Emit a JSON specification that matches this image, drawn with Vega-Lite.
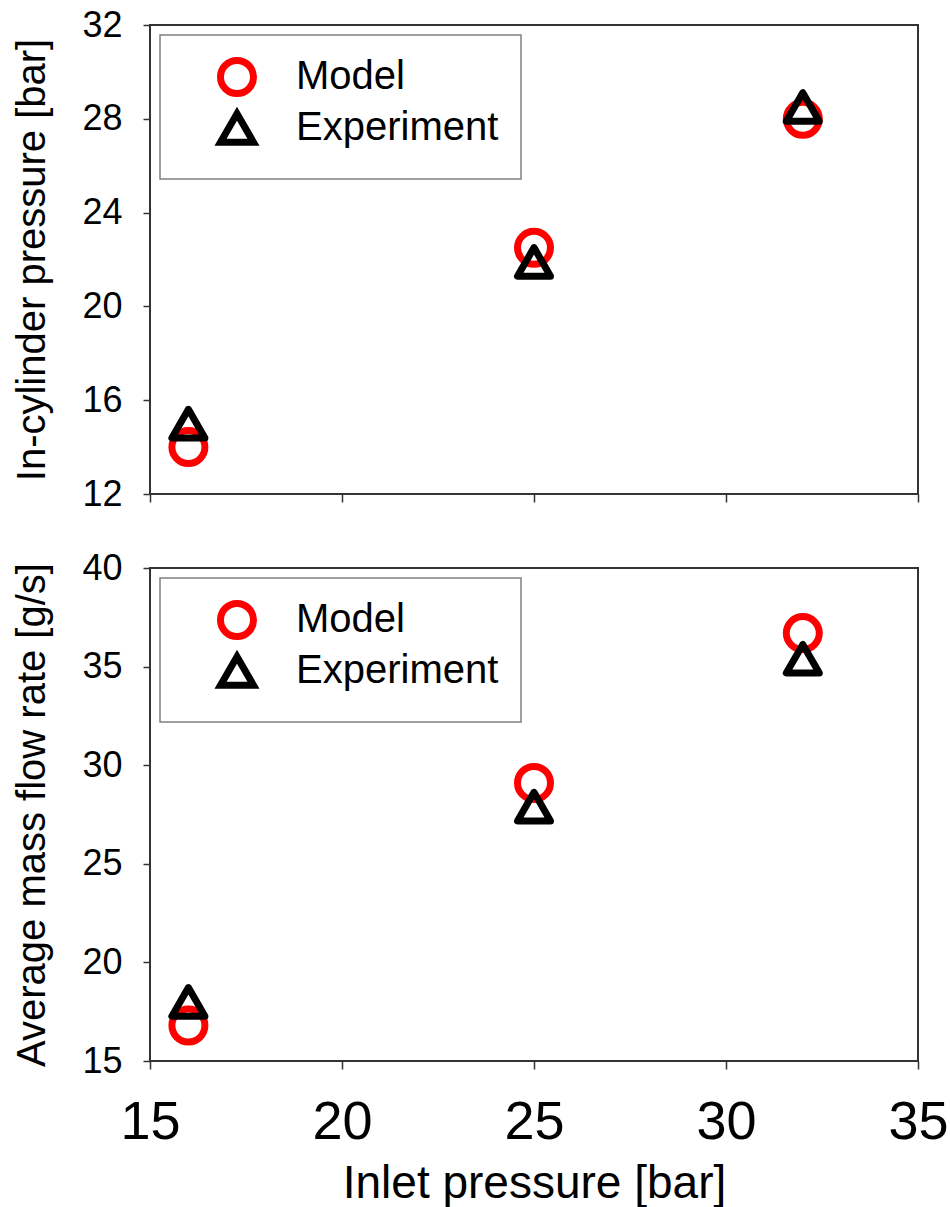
{
  "$schema": "https://vega.github.io/schema/vega-lite/v6.json",
  "autosize": {"type": "pad"},
  "padding": {"left": 10, "top": 6, "right": 0, "bottom": 0},
  "background": "white",
  "spacing": 74,
  "bounds": "flush",
  "config": {
    "font": "Liberation Sans",
    "view": {"stroke": "#333333", "strokeWidth": 2},
    "axis": {
      "domain": false,
      "grid": false,
      "labelFlush": false,
      "tickColor": "#333333",
      "tickWidth": 1.5,
      "tickSize": 8,
      "labelColor": "black",
      "titleColor": "black",
      "labelFont": "Liberation Sans",
      "titleFont": "Liberation Sans",
      "titleFontWeight": "normal"
    },
    "legend": {
      "orient": "none",
      "legendX": 10,
      "legendY": 10,
      "strokeColor": "#808080",
      "strokeWidth": 1.5,
      "padding": 22,
      "symbolOffset": 35,
      "labelOffset": 39,
      "labelFontSize": 40,
      "labelFont": "Liberation Sans",
      "labelColor": "black",
      "symbolSize": 1089,
      "symbolStrokeWidth": 7,
      "rowPadding": -12,
      "labelLimit": 400
    }
  },
  "datasets": {
    "cyl": [
      {"inlet": 16, "value": 14.0, "series": "Model"},
      {"inlet": 25, "value": 22.5, "series": "Model"},
      {"inlet": 32, "value": 28.0, "series": "Model"},
      {"inlet": 16, "value": 15.0, "series": "Experiment"},
      {"inlet": 25, "value": 21.9, "series": "Experiment"},
      {"inlet": 32, "value": 28.5, "series": "Experiment"}
    ],
    "flow": [
      {"inlet": 16, "value": 16.8, "series": "Model"},
      {"inlet": 25, "value": 29.1, "series": "Model"},
      {"inlet": 32, "value": 36.7, "series": "Model"},
      {"inlet": 16, "value": 18.0, "series": "Experiment"},
      {"inlet": 25, "value": 27.9, "series": "Experiment"},
      {"inlet": 32, "value": 35.4, "series": "Experiment"}
    ]
  },
  "resolve": {
    "scale": {"shape": "independent", "stroke": "independent"},
    "legend": {"shape": "independent", "stroke": "independent"}
  },
  "vconcat": [
    {
      "width": 768,
      "height": 469,
      "data": {"name": "cyl"},
      "mark": {"type": "point", "filled": false, "strokeWidth": 7, "size": 1089, "strokeJoin": "round", "opacity": 1},
      "encoding": {
        "x": {
          "field": "inlet", "type": "quantitative",
          "scale": {"domain": [15, 35], "nice": false, "zero": false},
          "axis": {"values": [15, 20, 25, 30, 35], "labels": false, "title": null}
        },
        "y": {
          "field": "value", "type": "quantitative",
          "scale": {"domain": [12, 32], "nice": false, "zero": false},
          "axis": {
            "values": [12, 16, 20, 24, 28, 32],
            "title": "In-cylinder pressure [bar]",
            "labelFontSize": 36,
            "labelPadding": 21,
            "tickSize": 7,
            "titleFontSize": 40,
            "titleX": -106,
            "titleBaseline": "alphabetic"
          }
        },
        "shape": {
          "field": "series", "type": "nominal",
          "scale": {"domain": ["Model", "Experiment"], "range": ["circle", "triangle-up"]},
          "legend": {"title": null, "encode": {"symbols": {"update": {"strokeJoin": {"value": "round"}}}}}
        },
        "stroke": {
          "field": "series", "type": "nominal",
          "scale": {"domain": ["Model", "Experiment"], "range": ["#ff0000", "#000000"]},
          "legend": {"title": null, "encode": {"symbols": {"update": {"strokeJoin": {"value": "round"}}}}}
        }
      }
    },
    {
      "width": 768,
      "height": 493,
      "data": {"name": "flow"},
      "mark": {"type": "point", "filled": false, "strokeWidth": 7, "size": 1089, "strokeJoin": "round", "opacity": 1},
      "encoding": {
        "x": {
          "field": "inlet", "type": "quantitative",
          "scale": {"domain": [15, 35], "nice": false, "zero": false},
          "axis": {
            "values": [15, 20, 25, 30, 35],
            "title": "Inlet pressure [bar]",
            "labelFont": "Liberation Sans Narrow, Liberation Sans",
            "labelFontSize": 54,
            "labelPadding": 26,
            "titleFontSize": 46,
            "titleY": 136,
            "titleBaseline": "alphabetic"
          }
        },
        "y": {
          "field": "value", "type": "quantitative",
          "scale": {"domain": [15, 40], "nice": false, "zero": false},
          "axis": {
            "values": [15, 20, 25, 30, 35, 40],
            "title": "Average mass flow rate [g/s]",
            "labelFontSize": 36,
            "labelPadding": 21,
            "tickSize": 7,
            "titleFontSize": 40,
            "titleX": -106,
            "titleBaseline": "alphabetic"
          }
        },
        "shape": {
          "field": "series", "type": "nominal",
          "scale": {"domain": ["Model", "Experiment"], "range": ["circle", "triangle-up"]},
          "legend": {"title": null, "encode": {"symbols": {"update": {"strokeJoin": {"value": "round"}}}}}
        },
        "stroke": {
          "field": "series", "type": "nominal",
          "scale": {"domain": ["Model", "Experiment"], "range": ["#ff0000", "#000000"]},
          "legend": {"title": null, "encode": {"symbols": {"update": {"strokeJoin": {"value": "round"}}}}}
        }
      }
    }
  ]
}
